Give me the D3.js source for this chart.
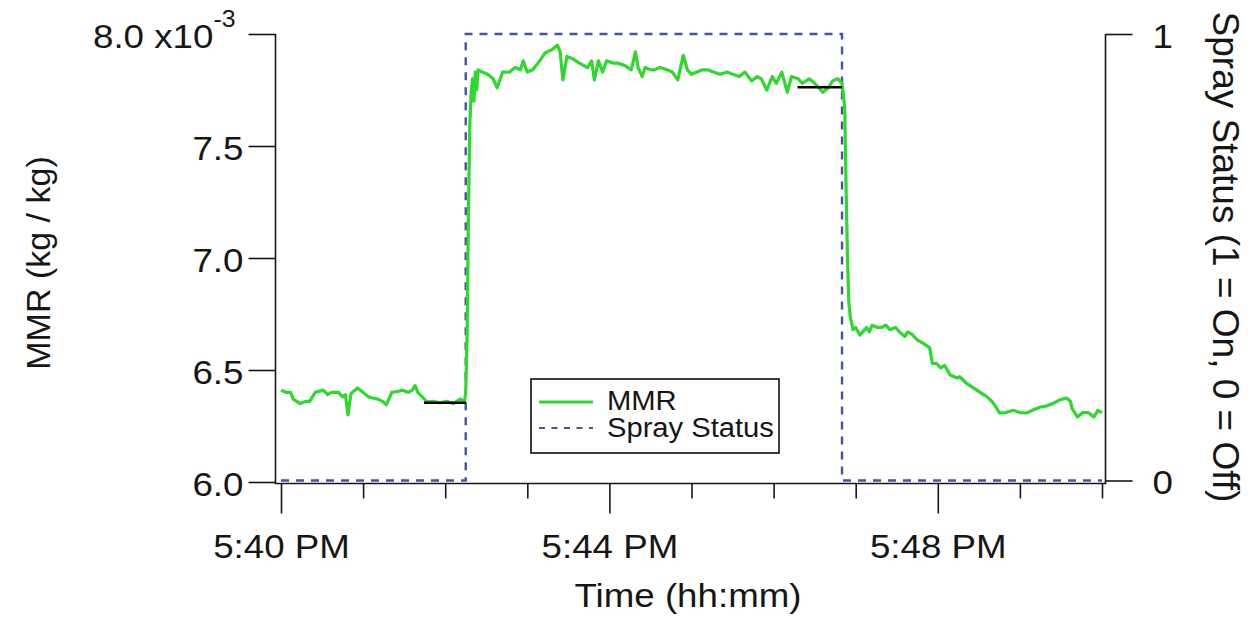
<!DOCTYPE html>
<html>
<head>
<meta charset="utf-8">
<script src="https://cdn.jsdelivr.net/npm/d3@7"></script>
<style>
  html, body { margin: 0; padding: 0; background: #fff; }
  svg { display: block; font-family: "Liberation Sans", Arial, sans-serif; }
</style>
</head>
<body>
<svg id="chart" width="1248" height="624"></svg>
<script>
// Mass mixing ratio (in units of 1e-3 kg/kg) sampled at seconds after 5:40 PM
const mmrSeconds = [
  0, 4, 7, 9, 14, 18, 21, 25, 31, 34,
  37, 42, 45, 47, 49, 51, 52, 56, 60, 64,
  67, 71, 74, 77, 81, 86, 89, 93, 96, 98,
  100, 104, 107, 111, 116, 121, 126, 131, 134, 135,
  136, 137, 138, 139, 140, 141, 142, 143, 144, 147,
  151, 155, 158, 162, 167, 171, 175, 177, 180, 184,
  189, 193, 198, 202, 204, 206, 209, 213, 218, 224,
  227, 229, 232, 235, 238, 243, 246, 251, 256, 259,
  261, 264, 266, 270, 273, 277, 282, 286, 290, 294,
  297, 300, 304, 308, 312, 316, 321, 326, 330, 335,
  339, 344, 348, 351, 355, 359, 362, 366, 370, 373,
  378, 381, 386, 390, 396, 400, 403, 407, 410, 412,
  413, 414, 415, 416, 418, 420, 423, 428, 430, 432,
  436, 439, 442, 445, 449, 452, 456, 458, 461, 465,
  469, 474, 476, 479, 482, 485, 489, 494, 496, 501,
  506, 511, 516, 520, 523, 525, 530, 535, 540, 545,
  549, 555, 560, 564, 569, 574, 577, 578, 582, 586,
  590, 594, 597, 600
];
const mmrValues = [
  6.41, 6.40, 6.40, 6.37, 6.35, 6.36, 6.36, 6.40, 6.41, 6.39,
  6.40, 6.40, 6.38, 6.39, 6.30, 6.39, 6.40, 6.42, 6.40, 6.38,
  6.375, 6.37, 6.36, 6.345, 6.40, 6.405, 6.41, 6.40, 6.41, 6.43,
  6.40, 6.375, 6.357, 6.36, 6.354, 6.36, 6.35, 6.37, 6.357, 6.40,
  6.65, 7.20, 7.60, 7.74, 7.80, 7.70, 7.83, 7.75, 7.84, 7.83,
  7.82, 7.80, 7.76, 7.83, 7.83, 7.85, 7.84, 7.88, 7.83, 7.84,
  7.88, 7.915, 7.93, 7.95, 7.92, 7.795, 7.90, 7.89, 7.87, 7.85,
  7.88, 7.795, 7.88, 7.83, 7.88, 7.87, 7.87, 7.86, 7.84, 7.92,
  7.85, 7.81, 7.85, 7.84, 7.84, 7.85, 7.84, 7.83, 7.795, 7.905,
  7.84, 7.82, 7.83, 7.84, 7.84, 7.83, 7.82, 7.83, 7.82, 7.81,
  7.83, 7.79, 7.81, 7.80, 7.75, 7.81, 7.78, 7.83, 7.74, 7.81,
  7.80, 7.78, 7.80, 7.78, 7.74, 7.76, 7.79, 7.80, 7.78, 7.67,
  7.30, 7.00, 6.80, 6.74, 6.68, 6.69, 6.656, 6.69, 6.67, 6.70,
  6.69, 6.69, 6.70, 6.68, 6.69, 6.67, 6.65, 6.67, 6.66, 6.634,
  6.62, 6.60, 6.53, 6.53, 6.51, 6.52, 6.478, 6.464, 6.47, 6.44,
  6.42, 6.40, 6.38, 6.357, 6.33, 6.308, 6.31, 6.32, 6.31, 6.308,
  6.32, 6.335, 6.34, 6.35, 6.366, 6.375, 6.36, 6.33, 6.29, 6.31,
  6.31, 6.29, 6.32, 6.31
];

// Spray on/off state changes (seconds after 5:40 PM)
const spraySeconds = [0, 135, 410, 600];
const sprayValues  = [0, 1, 0, 0];

// 30-second averages just before the spray switches on and off
const avgStartSeconds = [104.5, 377.5];
const avgEndSeconds   = [135, 410];
const avgValues       = [6.354, 7.762];

// Axis ticks
const mmrTicks   = [6.0, 6.5, 7.0, 7.5, 8.0];
const mmrExponent = "-3";
const sprayTicks = [0, 1];
const labeledMinutes = [40, 44, 48];

const legendLabels = ["MMR", "Spray Status"];
const xTitle = "Time (hh:mm)";
const yLeftTitle = "MMR (kg / kg)";
const yRightTitle = "Spray Status (1 = On, 0 = Off)";

// ---------------------------------------------------------------
const base = new Date(2000, 0, 1, 17, 40, 0);
const toDate = s => new Date(base.getTime() + s * 1000);

const GREEN = "#2fd82f";
const SPRAY = "#44559e";
const INK = "#161616";
const STRETCH = 1.08;
const AXIS_Y = 483.5;

const svg = d3.select("#chart");

const x = d3.scaleTime()
  .domain([toDate(0), toDate(600)])
  .range([281, 1102]);
const yL = d3.scaleLinear().domain([6.0, 8.0]).range([482, 34]);
const yR = d3.scaleLinear().domain([0, 1]).range([480.5, 34]);

// stretch horizontal text slightly around its anchor point
function widen(sel) {
  sel.each(function () {
    const t = d3.select(this);
    const tx = +t.attr("x") || 0;
    const ty = +t.attr("y") || 0;
    t.attr("x", 0).attr("y", 0)
     .attr("transform", `translate(${tx},${ty}) scale(${STRETCH},1)`);
  });
}

// ---- series ----
const mmrData = mmrSeconds.map((s, i) => ({ t: toDate(s), v: mmrValues[i] }));
const sprayData = spraySeconds.map((s, i) => ({ t: toDate(s), v: sprayValues[i] }));

svg.append("path")
  .datum(sprayData)
  .attr("fill", "none")
  .attr("stroke", SPRAY)
  .attr("stroke-width", 2.4)
  .attr("stroke-dasharray", "8,7")
  .attr("d", d3.line().curve(d3.curveStepAfter).x(d => x(d.t)).y(d => yR(d.v)));

svg.append("path")
  .datum(mmrData)
  .attr("fill", "none")
  .attr("stroke", GREEN)
  .attr("stroke-width", 3.2)
  .attr("stroke-linejoin", "round")
  .attr("d", d3.line().x(d => x(d.t)).y(d => yL(d.v)));

svg.append("g").selectAll("line")
  .data(avgValues)
  .join("line")
  .attr("x1", (d, i) => x(toDate(avgStartSeconds[i])))
  .attr("x2", (d, i) => x(toDate(avgEndSeconds[i])))
  .attr("y1", d => yL(d))
  .attr("y2", d => yL(d))
  .attr("stroke", "#000")
  .attr("stroke-width", 2.6);

// ---- left axis ----
const gL = svg.append("g")
  .attr("transform", "translate(275.5,0)")
  .call(d3.axisLeft(yL).tickValues(mmrTicks).tickSize(27).tickSizeOuter(0)
    .tickPadding(5).tickFormat(d3.format(".1f")));
gL.select(".domain").attr("d", `M0,${AXIS_Y}V34`);
gL.selectAll("path, line").attr("stroke", INK).attr("stroke-width", 1.6);
gL.selectAll("text")
  .attr("font-size", 34).attr("fill", INK).attr("dy", 13)
  .attr("font-family", "Liberation Sans, Arial, sans-serif");
const topLabel = gL.selectAll(".tick").filter(d => d === 8.0).select("text");
topLabel.attr("x", -40)
  .text(d => d3.format(".1f")(d) + " x10")
  .append("tspan").attr("dy", -21).attr("font-size", 23).text(mmrExponent);
widen(gL.selectAll("text"));

// ---- right axis ----
const gR = svg.append("g")
  .attr("transform", "translate(1105.5,0)")
  .call(d3.axisRight(yR).tickValues(sprayTicks).tickSize(27).tickSizeOuter(0)
    .tickPadding(20).tickFormat(d3.format("d")));
gR.select(".domain").attr("d", `M0,${AXIS_Y}V34`);
gR.selectAll("path, line").attr("stroke", INK).attr("stroke-width", 1.6);
gR.selectAll("text")
  .attr("font-size", 34).attr("fill", INK).attr("dy", 13)
  .attr("font-family", "Liberation Sans, Arial, sans-serif");
widen(gR.selectAll("text"));

// ---- bottom axis ----
const fmt = d3.timeFormat("%-I:%M %p");
const gB = svg.append("g")
  .attr("transform", `translate(0,${AXIS_Y})`)
  .call(d3.axisBottom(x).ticks(d3.timeMinute.every(1)).tickSize(30)
    .tickSizeOuter(0).tickFormat(fmt));
gB.select(".domain").remove();
gB.selectAll(".tick line")
  .attr("stroke", INK).attr("stroke-width", 1.6)
  .attr("y2", d => labeledMinutes.includes(d.getMinutes()) ? 30 : 15);
gB.selectAll(".tick text")
  .attr("font-size", 34).attr("fill", INK)
  .attr("y", 74).attr("dy", 0)
  .attr("font-family", "Liberation Sans, Arial, sans-serif")
  .text(d => labeledMinutes.includes(d.getMinutes()) ? fmt(d) : "");
widen(gB.selectAll(".tick text"));

svg.append("line")
  .attr("x1", 274.7).attr("x2", 1106.3)
  .attr("y1", AXIS_Y).attr("y2", AXIS_Y)
  .attr("stroke", INK).attr("stroke-width", 1.6);

// ---- titles ----
svg.append("text")
  .attr("x", 688).attr("y", 607)
  .attr("text-anchor", "middle").attr("font-size", 34).attr("fill", INK)
  .text(xTitle)
  .call(widen);

svg.append("text")
  .attr("transform", "translate(50,263) rotate(-90)")
  .attr("text-anchor", "middle").attr("font-size", 34).attr("fill", INK)
  .text(yLeftTitle);

svg.append("text")
  .attr("transform", "translate(1213,257) rotate(90)")
  .attr("text-anchor", "middle").attr("font-size", 37).attr("fill", INK)
  .text(yRightTitle);

// ---- legend ----
const lg = svg.append("g");
lg.append("rect")
  .attr("x", 531).attr("y", 379).attr("width", 248).attr("height", 74)
  .attr("fill", "#fff").attr("stroke", "#000").attr("stroke-width", 1.5);
lg.append("line")
  .attr("x1", 539).attr("x2", 593).attr("y1", 402).attr("y2", 402)
  .attr("stroke", GREEN).attr("stroke-width", 3.2);
lg.append("line")
  .attr("x1", 539).attr("x2", 593).attr("y1", 428).attr("y2", 428)
  .attr("stroke", SPRAY).attr("stroke-width", 2.2).attr("stroke-dasharray", "6,6.5");
lg.selectAll("text.lab")
  .data(legendLabels)
  .join("text")
  .attr("class", "lab")
  .attr("x", 607).attr("y", (d, i) => 410 + i * 27)
  .attr("font-size", 27).attr("fill", INK)
  .text(d => d)
  .call(widen);
</script>
</body>
</html>
